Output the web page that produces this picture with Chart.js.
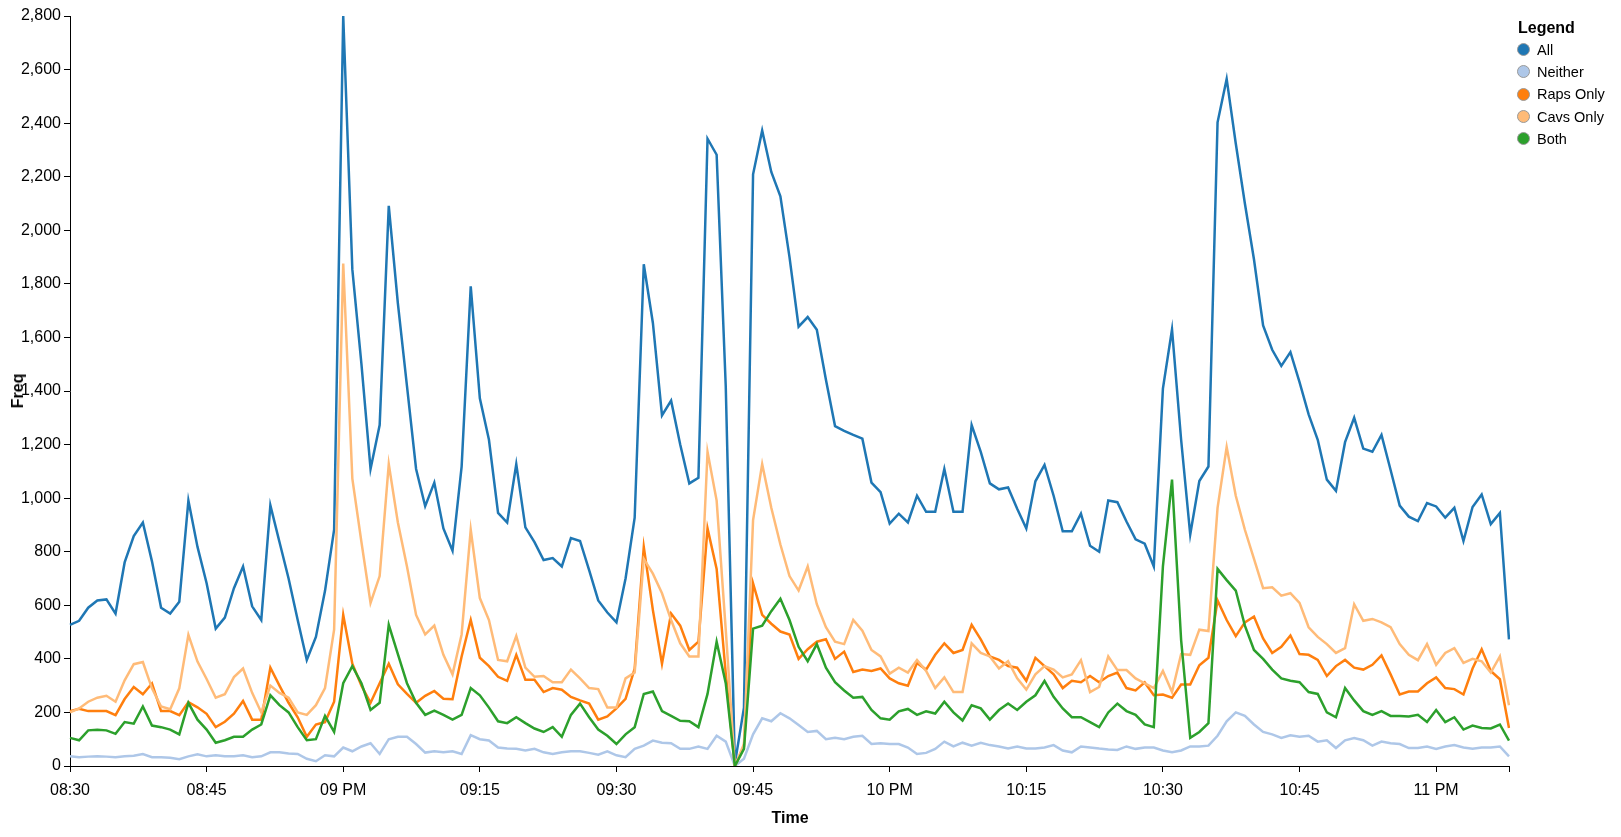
<!DOCTYPE html>
<html>
<head>
<meta charset="utf-8">
<script src="https://cdn.jsdelivr.net/npm/chart.js@4.4.0/dist/chart.umd.min.js"></script>
<style>
  html, body { margin: 0; padding: 0; background: #fff; }
  #wrap { position: relative; width: 1621px; height: 837px; font-family: "Liberation Sans", Arial, sans-serif; color: #000; }
  #c { position: absolute; left: 0; top: 0; }
  .axis-title { position: absolute; font-weight: bold; font-size: 16px; line-height: 16px; white-space: nowrap; }
  #ytitle { left: 17.5px; top: 391px; transform: translate(-50%, -50%) rotate(-90deg); }
  #xtitle { left: 790px; top: 818px; transform: translate(-50%, -50%); }
  #legend-title { position: absolute; left: 1518px; top: 20px; font-weight: bold; font-size: 16px; line-height: 16px; }
  .lg-row { position: absolute; left: 1517px; height: 20px; display: flex; align-items: center; font-size: 14.5px; }
  .lg-dot { width: 13px; height: 13px; border-radius: 50%; box-sizing: border-box; border: 1px solid #999; margin-right: 7px; }
</style>
</head>
<body>
<div id="wrap">
  <canvas id="c" width="1621" height="837"></canvas>
  <div id="ytitle" class="axis-title">Freq</div>
  <div id="xtitle" class="axis-title">Time</div>
  <div id="legend-title">Legend</div>
  <div id="legend"></div>
</div>
<script>
// ---- data (one value per minute, 20:30 .. 23:08) ----
const seriesNames = ['All', 'Neither', 'Raps Only', 'Cavs Only', 'Both'];
const seriesColors = ['#1f77b4', '#aec7e8', '#ff7f0e', '#ffbb78', '#2ca02c'];

const allValues = [527,542,591,618,622,569,760,858,909,764,
591,569,613,991,818,682,513,554,664,745,
596,545,973,836,700,545,396,482,654,882,
2800,1854,1500,1109,1273,2091,1727,1418,1109,970,
1058,887,804,1118,1791,1373,1218,945,909,1127,
891,836,769,776,745,851,840,731,618,573,
536,700,927,1873,1654,1309,1364,1200,1055,1076,
2342,2282,1418,8,218,2209,2373,2218,2127,1900,
1640,1676,1629,1442,1269,1251,1236,1222,1058,1022,
905,942,909,1009,949,949,1109,949,949,1273,
1173,1055,1033,1040,960,887,1063,1124,1009,876,
876,942,822,800,991,985,913,846,830,745,
1409,1630,1218,864,1064,1118,2403,2565,2324,2100,
1891,1645,1554,1494,1545,1433,1313,1218,1069,1027,
1209,1300,1185,1173,1236,1105,972,931,914,982,
969,927,964,840,967,1014,903,945,473];

const neitherValues = [36,33,35,36,35,33,36,38,45,33,
33,31,25,36,44,36,40,36,36,40,
33,36,51,51,47,45,27,18,40,36,
69,55,73,85,45,100,109,109,82,50,
55,51,55,45,115,100,95,69,65,64,
58,64,51,45,51,55,55,49,42,55,
40,33,64,76,95,87,85,64,64,73,
64,113,91,0,27,118,178,167,197,178,
153,127,131,100,105,100,109,113,82,85,
82,82,69,45,49,64,91,73,87,76,
87,78,73,65,73,65,65,69,78,58,
51,73,69,65,62,60,73,64,69,69,
58,51,58,73,73,76,113,167,200,187,
155,127,118,105,115,109,113,91,96,67,
96,104,96,76,91,85,82,67,67,73,
64,73,78,69,64,69,69,73,36];

const rapsValues = [205,214,205,205,205,190,250,295,268,308,
205,205,190,238,219,195,145,165,195,243,
173,173,367,300,236,182,109,155,164,240,
564,382,300,236,309,382,305,269,236,262,
280,251,249,409,545,404,373,333,318,415,
322,322,276,291,285,258,245,233,173,185,
215,251,364,818,582,382,569,524,433,464,
887,736,345,0,73,682,564,531,502,491,
400,436,464,473,400,427,351,360,355,364,
327,309,300,385,360,415,458,422,433,527,
473,409,396,373,367,318,404,373,342,291,
318,313,336,313,336,349,291,282,312,264,
267,255,304,304,376,404,618,545,485,536,
558,476,422,445,487,418,415,396,336,373,
396,367,360,378,413,342,267,278,278,309,
331,291,287,267,364,436,355,324,142];

const cavsValues = [200,215,240,255,262,240,320,380,388,290,
222,212,290,490,390,325,255,268,332,364,
273,200,300,273,255,200,191,227,291,509,
1876,1073,836,609,709,1127,909,745,564,491,
524,415,342,491,882,627,545,396,391,485,
367,333,336,313,313,360,327,291,287,218,
218,327,349,773,718,645,545,458,409,409,
1173,991,509,0,82,918,1127,964,827,709,
655,745,604,518,464,455,545,505,433,409,
345,367,349,396,355,291,331,276,276,458,
422,409,364,391,327,285,342,373,360,331,
342,395,276,295,409,358,358,327,309,291,
355,276,418,415,509,504,964,1191,1009,882,
773,664,667,636,645,609,518,482,455,422,
440,604,542,549,536,518,455,415,395,455,
378,422,440,385,400,391,349,409,227];

const bothValues = [105,96,133,135,133,120,164,158,222,151,
145,136,118,236,173,136,87,96,109,109,
136,155,264,227,200,145,96,100,187,127,
309,373,309,209,236,527,418,309,236,191,
207,191,173,191,291,264,218,167,160,182,
160,140,127,145,109,191,233,182,136,113,
82,118,145,269,278,205,187,169,167,145,
269,464,309,0,64,513,524,578,624,545,
445,391,455,367,313,282,255,258,209,178,
173,204,213,191,204,196,240,200,170,227,
215,173,209,233,209,240,264,318,258,215,
182,182,164,145,200,233,205,191,155,145,
745,1069,470,105,127,160,736,694,655,524,
433,400,360,327,318,313,276,269,200,182,
291,245,205,191,205,187,187,185,191,164,
209,164,182,136,151,142,140,155,95];

const seriesValues = [allValues, neitherValues, rapsValues, cavsValues, bothValues];

// categories: one per minute starting at 20:30
const startMinuteOfDay = 20 * 60 + 30;
const times = allValues.map((_, i) => {
  const t = startMinuteOfDay + i;
  return String(Math.floor(t / 60)).padStart(2, '0') + ':' + String(t % 60).padStart(2, '0');
});

const tickTimes  = ['20:30','20:45','21:00','21:15','21:30','21:45','22:00','22:15','22:30','22:45','23:00'];
const tickLabels = ['08:30','08:45','09 PM','09:15','09:30','09:45','10 PM','10:15','10:30','10:45','11 PM'];

const yMax = 2800, yStep = 200;

// ---- chart ----
Chart.defaults.font.family = '"Liberation Sans", Arial, sans-serif';

function isMarkedTick(i) {
  return tickTimes.indexOf(times[i]) >= 0 || i === times.length - 1;
}

new Chart(document.getElementById('c'), {
  type: 'line',
  data: {
    labels: times,
    datasets: seriesNames.map((name, k) => ({
      label: name,
      data: seriesValues[k],
      borderColor: seriesColors[k],
      backgroundColor: seriesColors[k],
      borderWidth: 2.5,
      pointRadius: 0,
      pointHoverRadius: 0,
      tension: 0,
      fill: false,
      order: seriesNames.length - 1 - k
    }))
  },
  options: {
    responsive: false,
    animation: false,
    devicePixelRatio: 1,
    layout: { padding: { left: 0, right: 112, top: 16, bottom: 0 } },
    plugins: { legend: { display: false }, tooltip: { enabled: false } },
    scales: {
      x: {
        type: 'category',
        grid: {
          display: true, drawOnChartArea: false, drawTicks: true, tickLength: 6, lineWidth: 1,
          color: ctx => isMarkedTick(ctx.index) ? '#000' : 'rgba(0,0,0,0)'
        },
        border: { display: true, color: '#000', width: 1 },
        ticks: {
          autoSkip: false, maxRotation: 0, minRotation: 0, padding: 9, color: '#000',
          font: { size: 16 },
          callback: (v, i) => {
            const j = tickTimes.indexOf(times[i]);
            return j >= 0 ? tickLabels[j] : '';
          }
        },
        afterFit: s => { s.height = 71; }
      },
      y: {
        min: 0, max: yMax,
        grid: { display: true, drawOnChartArea: false, drawTicks: true, tickLength: 6, lineWidth: 1, color: '#000' },
        border: { display: true, color: '#000', width: 1 },
        ticks: {
          stepSize: yStep, padding: 3, color: '#000', font: { size: 16 },
          callback: v => Number(v).toLocaleString('en-US')
        },
        afterFit: s => { s.width = 70; }
      }
    }
  }
});

// ---- legend (HTML) ----
const legendRowCenters = [49.6, 71.9, 94.2, 116.5, 138.8];
const legend = document.getElementById('legend');
seriesNames.forEach((name, k) => {
  const row = document.createElement('div');
  row.className = 'lg-row';
  row.style.top = (legendRowCenters[k] - 10) + 'px';
  const dot = document.createElement('span');
  dot.className = 'lg-dot';
  dot.style.background = seriesColors[k];
  const txt = document.createElement('span');
  txt.textContent = name;
  row.appendChild(dot);
  row.appendChild(txt);
  legend.appendChild(row);
});
</script>
</body>
</html>
